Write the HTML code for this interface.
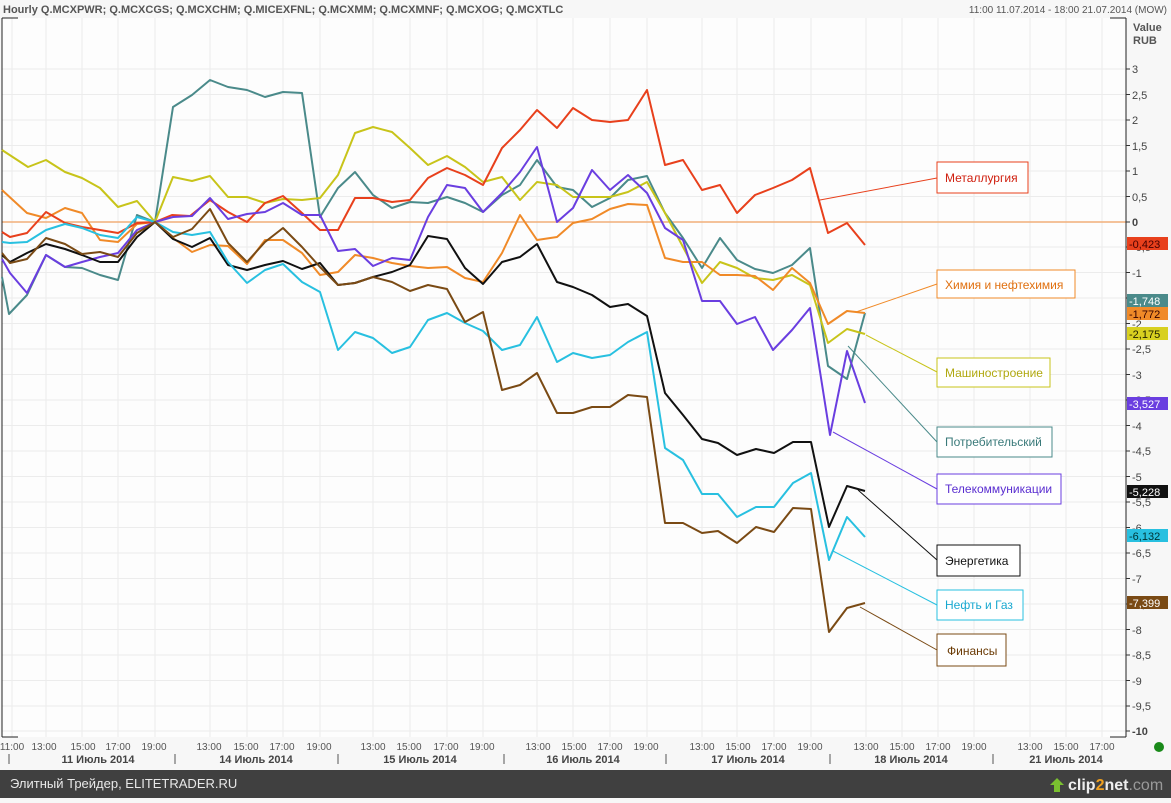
<!DOCTYPE html>
<html><head><meta charset="utf-8"><style>
body{margin:0;width:1171px;height:798px;overflow:hidden;background:#f7f7f7;font-family:"Liberation Sans","DejaVu Sans",sans-serif}
svg text{font-family:"Liberation Sans","DejaVu Sans",sans-serif}
</style></head><body>
<svg width="1171" height="798" viewBox="0 0 1171 798" xmlns="http://www.w3.org/2000/svg">
<rect x="0" y="0" width="1171" height="798" fill="#f7f7f7"/>
<rect x="2" y="18" width="1124" height="719" fill="#fdfdfd"/>
<g stroke="#ececec" stroke-width="1">
<line x1="2" x2="1126" y1="69" y2="69"/><line x1="2" x2="1126" y1="94.5" y2="94.5"/><line x1="2" x2="1126" y1="120" y2="120"/><line x1="2" x2="1126" y1="145.5" y2="145.5"/><line x1="2" x2="1126" y1="171" y2="171"/><line x1="2" x2="1126" y1="196.5" y2="196.5"/><line x1="2" x2="1126" y1="247" y2="247"/><line x1="2" x2="1126" y1="272.5" y2="272.5"/><line x1="2" x2="1126" y1="298" y2="298"/><line x1="2" x2="1126" y1="323.5" y2="323.5"/><line x1="2" x2="1126" y1="349" y2="349"/><line x1="2" x2="1126" y1="374.5" y2="374.5"/><line x1="2" x2="1126" y1="400" y2="400"/><line x1="2" x2="1126" y1="425.5" y2="425.5"/><line x1="2" x2="1126" y1="451" y2="451"/><line x1="2" x2="1126" y1="476.5" y2="476.5"/><line x1="2" x2="1126" y1="502" y2="502"/><line x1="2" x2="1126" y1="527.5" y2="527.5"/><line x1="2" x2="1126" y1="553" y2="553"/><line x1="2" x2="1126" y1="578.5" y2="578.5"/><line x1="2" x2="1126" y1="604" y2="604"/><line x1="2" x2="1126" y1="629.5" y2="629.5"/><line x1="2" x2="1126" y1="655" y2="655"/><line x1="2" x2="1126" y1="680.5" y2="680.5"/><line x1="2" x2="1126" y1="706" y2="706"/><line x1="2" x2="1126" y1="731" y2="731"/>
<line x1="12" x2="12" y1="18" y2="737"/><line x1="46" x2="46" y1="18" y2="737"/><line x1="82" x2="82" y1="18" y2="737"/><line x1="118" x2="118" y1="18" y2="737"/><line x1="155" x2="155" y1="18" y2="737"/><line x1="210" x2="210" y1="18" y2="737"/><line x1="247" x2="247" y1="18" y2="737"/><line x1="283" x2="283" y1="18" y2="737"/><line x1="320" x2="320" y1="18" y2="737"/><line x1="373" x2="373" y1="18" y2="737"/><line x1="410" x2="410" y1="18" y2="737"/><line x1="447" x2="447" y1="18" y2="737"/><line x1="483" x2="483" y1="18" y2="737"/><line x1="537" x2="537" y1="18" y2="737"/><line x1="573" x2="573" y1="18" y2="737"/><line x1="610" x2="610" y1="18" y2="737"/><line x1="647" x2="647" y1="18" y2="737"/><line x1="702" x2="702" y1="18" y2="737"/><line x1="737" x2="737" y1="18" y2="737"/><line x1="774" x2="774" y1="18" y2="737"/><line x1="811" x2="811" y1="18" y2="737"/><line x1="866" x2="866" y1="18" y2="737"/><line x1="902" x2="902" y1="18" y2="737"/><line x1="938" x2="938" y1="18" y2="737"/><line x1="974" x2="974" y1="18" y2="737"/><line x1="1030" x2="1030" y1="18" y2="737"/><line x1="1066" x2="1066" y1="18" y2="737"/><line x1="1102" x2="1102" y1="18" y2="737"/>
</g>
<line x1="2" x2="1126" y1="222" y2="222" stroke="#f0a060" stroke-width="1.2"/>
<line x1="2" y1="18" x2="2" y2="737" stroke="#222"/>
<line x1="2" y1="18" x2="18" y2="18" stroke="#222"/>
<line x1="2" y1="737" x2="18" y2="737" stroke="#222"/>
<line x1="1126" y1="18" x2="1126" y2="737" stroke="#222"/>
<line x1="1110" y1="18" x2="1126" y2="18" stroke="#222"/>
<line x1="1110" y1="737" x2="1126" y2="737" stroke="#222"/>
<g fill="none" stroke-width="2" stroke-linejoin="round">
<polyline stroke="#4a8a8a" points="2,277 9,314 27,295 46,255 65,267 82,268 100,275 118,280 137,215 155,222 173,107 192,95 210,80 228,87 247,90 265,97 283,92 302,93 320,217 338,188 355,172 373,195 392,208 410,202 428,203 447,197 465,203 483,212 502,195 520,185 537,160 557,187 573,190 592,207 610,198 628,180 647,176 665,213 683,238 702,268 720,238 737,260 755,269 773,273 792,265 810,248 828,366 847,379 865,313"/>
<polyline stroke="#c8c41a" points="2,150 28,167 46,160 65,172 82,178 100,188 118,207 137,201 155,222 173,177 192,181 210,176 228,197 247,197 265,203 283,199 302,200 320,198 338,175 355,133 373,127 392,132 410,148 428,165 447,156 465,167 483,182 502,177 520,200 537,182 557,185 573,197 592,197 610,197 628,192 647,182 665,213 683,247 702,283 720,262 737,268 755,278 773,280 792,275 810,285 828,343 847,329 865,334"/>
<polyline stroke="#f08a28" points="2,190 27,213 46,218 65,208 82,213 100,240 118,242 137,224 155,222 173,238 192,252 210,245 228,246 247,264 265,240 283,240 302,253 320,275 338,272 355,255 373,258 392,263 410,266 428,268 447,267 465,278 483,282 502,253 520,215 537,240 557,237 573,223 592,219 610,209 628,204 647,205 665,258 683,262 702,262 720,275 737,275 755,276 773,290 792,268 810,283 828,324 847,311 865,313"/>
<polyline stroke="#e8401c" points="2,232 10,237 27,233 46,212 65,223 82,227 100,230 118,233 137,223 155,222 172,215 190,216 210,200 228,212 247,222 265,203 283,196 302,213 320,230 338,230 355,198 373,198 392,202 410,200 428,178 447,168 465,175 483,185 502,148 520,130 537,110 557,128 573,108 592,120 610,122 628,120 647,90 665,165 683,160 702,190 720,185 737,213 755,195 773,188 792,180 810,168 828,233 847,223 865,245"/>
<polyline stroke="#6a3ee0" points="2,259 10,273 27,293 46,255 65,267 82,262 100,257 118,253 137,230 155,222 173,217 192,216 210,198 228,219 247,214 265,212 283,203 302,215 320,215 338,251 355,249 373,266 392,258 410,260 428,217 447,185 465,188 483,212 502,193 520,172 537,147 557,222 573,208 592,170 610,190 628,175 647,193 665,228 683,240 702,301 720,301 737,324 755,317 773,350 792,330 810,308 830,435 847,351 865,403"/>
<polyline stroke="#111" points="2,255 10,262 27,253 46,244 65,249 82,255 100,262 118,262 137,237 155,222 173,239 192,247 210,238 228,265 247,270 265,265 283,261 302,269 320,263 338,285 355,283 373,277 392,272 410,265 428,236 447,239 465,268 483,284 502,262 520,257 537,244 557,282 573,287 592,295 610,307 628,304 647,316 665,393 683,415 702,439 718,443 737,455 756,449 774,453 793,442 811,442 829,527 847,486 865,491"/>
<polyline stroke="#28c0e0" points="2,242 10,243 27,242 46,230 65,224 82,228 100,235 118,238 137,217 155,222 173,232 192,235 210,232 228,262 247,283 265,270 283,264 302,282 320,292 338,350 355,332 373,338 392,353 410,347 428,320 447,313 465,323 483,331 502,350 520,345 537,317 557,362 573,353 592,358 610,355 628,342 647,332 665,448 683,460 702,494 718,494 737,517 756,507 774,507 793,483 811,473 829,560 847,517 865,537"/>
<polyline stroke="#7a4a14" points="2,253 10,263 27,259 46,238 65,244 82,254 100,252 118,257 137,233 155,222 173,237 192,229 210,209 228,243 247,262 265,242 283,228 302,247 320,267 338,285 355,283 373,277 392,282 410,291 428,285 447,289 465,322 483,312 502,390 520,385 537,373 557,413 573,413 592,407 610,407 628,395 647,397 665,523 683,523 702,533 718,531 737,543 756,527 774,532 793,508 811,509 829,632 847,608 865,603"/>
</g>
<g stroke-width="1" fill="none">
<line x1="820" y1="200" x2="937" y2="178" stroke="#e8401c"/>
<line x1="856" y1="312" x2="937" y2="284" stroke="#f08a28"/>
<line x1="866" y1="335" x2="937" y2="372" stroke="#c8c41a"/>
<line x1="848" y1="346" x2="937" y2="442" stroke="#4a8a8a"/>
<line x1="833" y1="432" x2="937" y2="489" stroke="#6a3ee0"/>
<line x1="858" y1="490" x2="937" y2="560" stroke="#111"/>
<line x1="833" y1="551" x2="937" y2="605" stroke="#28c0e0"/>
<line x1="860" y1="607" x2="937" y2="650" stroke="#7a4a14"/>
</g>
<g font-size="12" fill="#222">
<rect x="937" y="162" width="91" height="31" fill="#fff" stroke="#e8401c"/><text x="945" y="182" fill="#d02010">Металлургия</text>
<rect x="937" y="270" width="138" height="28" fill="#fff" stroke="#f08a28"/><text x="945" y="289" fill="#e07010">Химия и нефтехимия</text>
<rect x="937" y="358" width="113" height="29" fill="#fff" stroke="#c8c41a"/><text x="945" y="377" fill="#b0a810">Машиностроение</text>
<rect x="937" y="427" width="115" height="30" fill="#fff" stroke="#4a8a8a"/><text x="945" y="446" fill="#3a7a7a">Потребительский</text>
<rect x="937" y="474" width="124" height="30" fill="#fff" stroke="#6a3ee0"/><text x="945" y="493" fill="#5a2ed0">Телекоммуникации</text>
<rect x="937" y="545" width="83" height="31" fill="#fff" stroke="#111"/><text x="945" y="565" fill="#111">Энергетика</text>
<rect x="937" y="590" width="86" height="30" fill="#fff" stroke="#28c0e0"/><text x="945" y="609" fill="#18a8d0">Нефть и Газ</text>
<rect x="937" y="634" width="69" height="32" fill="#fff" stroke="#7a4a14"/><text x="947" y="655" fill="#6a3a04">Финансы</text>
</g>
<g font-size="11" fill="#444">
<text x="1133" y="31" font-weight="bold" fill="#555">Value</text>
<text x="1133" y="44" font-weight="bold" fill="#555">RUB</text>
<g stroke="#333"><line x1="1126" x2="1130" y1="69" y2="69"/><line x1="1126" x2="1130" y1="94.5" y2="94.5"/><line x1="1126" x2="1130" y1="120" y2="120"/><line x1="1126" x2="1130" y1="145.5" y2="145.5"/><line x1="1126" x2="1130" y1="171" y2="171"/><line x1="1126" x2="1130" y1="196.5" y2="196.5"/><line x1="1126" x2="1130" y1="222" y2="222"/><line x1="1126" x2="1130" y1="247" y2="247"/><line x1="1126" x2="1130" y1="272.5" y2="272.5"/><line x1="1126" x2="1130" y1="298" y2="298"/><line x1="1126" x2="1130" y1="323.5" y2="323.5"/><line x1="1126" x2="1130" y1="349" y2="349"/><line x1="1126" x2="1130" y1="374.5" y2="374.5"/><line x1="1126" x2="1130" y1="400" y2="400"/><line x1="1126" x2="1130" y1="425.5" y2="425.5"/><line x1="1126" x2="1130" y1="451" y2="451"/><line x1="1126" x2="1130" y1="476.5" y2="476.5"/><line x1="1126" x2="1130" y1="502" y2="502"/><line x1="1126" x2="1130" y1="527.5" y2="527.5"/><line x1="1126" x2="1130" y1="553" y2="553"/><line x1="1126" x2="1130" y1="578.5" y2="578.5"/><line x1="1126" x2="1130" y1="604" y2="604"/><line x1="1126" x2="1130" y1="629.5" y2="629.5"/><line x1="1126" x2="1130" y1="655" y2="655"/><line x1="1126" x2="1130" y1="680.5" y2="680.5"/><line x1="1126" x2="1130" y1="706" y2="706"/><line x1="1126" x2="1130" y1="731" y2="731"/></g>
<text x="1132" y="73">3</text><text x="1132" y="99">2,5</text><text x="1132" y="124">2</text><text x="1132" y="150">1,5</text><text x="1132" y="175">1</text><text x="1132" y="201">0,5</text><text x="1132" y="226" font-weight="bold">0</text>
<text x="1132" y="251">-0,5</text><text x="1132" y="277">-1</text><text x="1132" y="302">-1,5</text><text x="1132" y="328">-2</text><text x="1132" y="353">-2,5</text><text x="1132" y="379">-3</text><text x="1132" y="404">-3,5</text><text x="1132" y="430">-4</text><text x="1132" y="455">-4,5</text><text x="1132" y="481">-5</text><text x="1132" y="506">-5,5</text><text x="1132" y="532">-6</text><text x="1132" y="557">-6,5</text><text x="1132" y="583">-7</text><text x="1132" y="608">-7,5</text><text x="1132" y="634">-8</text><text x="1132" y="659">-8,5</text><text x="1132" y="685">-9</text><text x="1132" y="710">-9,5</text><text x="1132" y="735" font-weight="bold">-10</text>
</g>
<g font-size="11">
<rect x="1127" y="237" width="41" height="13" fill="#e8401c"/><text x="1129" y="248" fill="#400">-0,423</text>
<rect x="1127" y="294" width="41" height="13" fill="#4a8a8a"/><text x="1129" y="305" fill="#fff">-1,748</text>
<rect x="1127" y="307" width="41" height="13" fill="#f08a28"/><text x="1129" y="318" fill="#300">-1,772</text>
<rect x="1127" y="327" width="41" height="13" fill="#d8d020"/><text x="1129" y="338" fill="#220">-2,175</text>
<rect x="1127" y="397" width="41" height="13" fill="#6a3ee0"/><text x="1129" y="408" fill="#fff">-3,527</text>
<rect x="1127" y="485" width="41" height="13" fill="#111"/><text x="1129" y="496" fill="#fff">-5,228</text>
<rect x="1127" y="529" width="41" height="13" fill="#28c0e0"/><text x="1129" y="540" fill="#033">-6,132</text>
<rect x="1127" y="596" width="41" height="13" fill="#7a4a14"/><text x="1129" y="607" fill="#fff">-7,399</text>
</g>
<text x="3" y="13" font-size="11" font-weight="bold" fill="#555">Hourly Q.MCXPWR; Q.MCXCGS; Q.MCXCHM; Q.MICEXFNL; Q.MCXMM; Q.MCXMNF; Q.MCXOG; Q.MCXTLC</text>
<text x="1167" y="13" font-size="10" fill="#555" text-anchor="end">11:00 11.07.2014 - 18:00 21.07.2014 (MOW)</text>
<g font-size="10" fill="#555" text-anchor="middle">
<text x="12" y="750">11:00</text><text x="44" y="750">13:00</text><text x="83" y="750">15:00</text><text x="118" y="750">17:00</text><text x="154" y="750">19:00</text>
<text x="209" y="750">13:00</text><text x="246" y="750">15:00</text><text x="282" y="750">17:00</text><text x="319" y="750">19:00</text>
<text x="373" y="750">13:00</text><text x="409" y="750">15:00</text><text x="446" y="750">17:00</text><text x="482" y="750">19:00</text>
<text x="538" y="750">13:00</text><text x="574" y="750">15:00</text><text x="610" y="750">17:00</text><text x="646" y="750">19:00</text>
<text x="702" y="750">13:00</text><text x="738" y="750">15:00</text><text x="774" y="750">17:00</text><text x="810" y="750">19:00</text>
<text x="866" y="750">13:00</text><text x="902" y="750">15:00</text><text x="938" y="750">17:00</text><text x="974" y="750">19:00</text>
<text x="1030" y="750">13:00</text><text x="1066" y="750">15:00</text><text x="1102" y="750">17:00</text>
</g>
<g font-size="11" font-weight="bold" fill="#444" text-anchor="middle">
<text x="98" y="763">11 Июль 2014</text><text x="256" y="763">14 Июль 2014</text><text x="420" y="763">15 Июль 2014</text><text x="583" y="763">16 Июль 2014</text><text x="748" y="763">17 Июль 2014</text><text x="911" y="763">18 Июль 2014</text><text x="1066" y="763">21 Июль 2014</text>
</g>
<g stroke="#555"><line x1="9" x2="9" y1="754" y2="764"/><line x1="175" x2="175" y1="754" y2="764"/><line x1="338" x2="338" y1="754" y2="764"/><line x1="504" x2="504" y1="754" y2="764"/><line x1="666" x2="666" y1="754" y2="764"/><line x1="830" x2="830" y1="754" y2="764"/><line x1="993" x2="993" y1="754" y2="764"/></g>
<circle cx="1159" cy="747" r="5" fill="#1a8a1a"/>
<rect x="0" y="770" width="1171" height="28" fill="#404040"/>
<text x="10" y="788" font-size="13" fill="#e8e8e8">Элитный Трейдер, ELITETRADER.RU</text>
<polygon points="1057,778 1064,785 1060,785 1060,792 1054,792 1054,785 1050,785" fill="#7ac030"/>
<text x="1068" y="790" font-size="16" fill="#eee" font-weight="bold">clip<tspan fill="#f0a020">2</tspan>net<tspan fill="#999" font-weight="normal">.com</tspan></text>
</svg>
</body></html>
